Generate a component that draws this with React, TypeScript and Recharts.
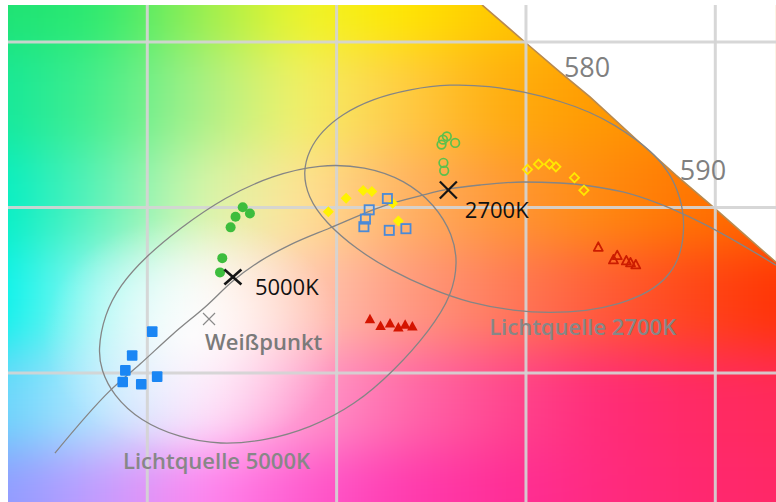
import React from 'react';
import { ComposedChart, XAxis, YAxis, Scatter, Area, ReferenceLine } from 'recharts';

// Chromaticity-like coordinate system of the diagram section
const X_DOMAIN: [number, number] = [0.26321, 0.46603];
const Y_DOMAIN: [number, number] = [0.311027, 0.461178];
const xGridTicks = [0.3, 0.35, 0.4, 0.45];
const yGridTicks = [0.35, 0.4, 0.45];

// Spectral locus edge (white area beyond it), with wavelength marks
const spectralLocus = [
  { x: 0.3884, y: 0.4612 },
  { x: 0.3997, y: 0.45 },
  { x: 0.409, y: 0.4409, nm: 580 },
  { x: 0.4169, y: 0.4334 },
  { x: 0.4293, y: 0.4204 },
  { x: 0.4396, y: 0.4098, nm: 590 },
  { x: 0.4494, y: 0.4002 },
  { x: 0.4578, y: 0.3917 },
  { x: 0.466, y: 0.3835 },
];

// Planckian locus
const planckianLocus = [
  { x: 0.2756, y: 0.3258 },
  { x: 0.2901, y: 0.3446 },
  { x: 0.2981, y: 0.3527 },
  { x: 0.3068, y: 0.3618 },
  { x: 0.3158, y: 0.3705 },
  { x: 0.3226, y: 0.3778 },
  { x: 0.3298, y: 0.3838 },
  { x: 0.3377, y: 0.3887 },
  { x: 0.3482, y: 0.3938 },
  { x: 0.3633, y: 0.4008 },
  { x: 0.372, y: 0.4035 },
  { x: 0.3797, y: 0.4056 },
  { x: 0.3879, y: 0.4068 },
  { x: 0.3992, y: 0.4077 },
  { x: 0.409, y: 0.4074 },
  { x: 0.4169, y: 0.4065 },
  { x: 0.4256, y: 0.4047 },
  { x: 0.4346, y: 0.4014 },
  { x: 0.446, y: 0.3956 },
  { x: 0.466, y: 0.3826 },
];

// Tolerance ellipses (outline points)
const ellipse5000 = [
  { x: 0.287, y: 0.357 }, { x: 0.2886, y: 0.3675 }, { x: 0.2928, y: 0.3766 }, { x: 0.2994, y: 0.385 },
  { x: 0.3086, y: 0.3938 }, { x: 0.3205, y: 0.4032 }, { x: 0.3332, y: 0.4098 }, { x: 0.3456, y: 0.4131 },
  { x: 0.3575, y: 0.4125 }, { x: 0.3681, y: 0.4083 }, { x: 0.376, y: 0.4008 }, { x: 0.3807, y: 0.3917 },
  { x: 0.382, y: 0.3835 }, { x: 0.3805, y: 0.3736 }, { x: 0.3747, y: 0.363 }, { x: 0.3654, y: 0.3509 },
  { x: 0.3548, y: 0.3403 }, { x: 0.343, y: 0.3334 }, { x: 0.3311, y: 0.3295 }, { x: 0.3192, y: 0.3283 },
  { x: 0.3086, y: 0.3304 }, { x: 0.2981, y: 0.3355 }, { x: 0.2909, y: 0.3434 }, { x: 0.2878, y: 0.3509 },
];
const ellipse2700 = [
  { x: 0.3411, y: 0.4107 }, { x: 0.3427, y: 0.4174 }, { x: 0.3461, y: 0.4231 }, { x: 0.3514, y: 0.4282 },
  { x: 0.3593, y: 0.4328 }, { x: 0.3694, y: 0.4358 }, { x: 0.3799, y: 0.4373 }, { x: 0.3905, y: 0.4367 },
  { x: 0.3997, y: 0.4349 }, { x: 0.409, y: 0.4322 }, { x: 0.4169, y: 0.4289 }, { x: 0.4235, y: 0.4249 },
  { x: 0.4293, y: 0.4204 }, { x: 0.4341, y: 0.4159 }, { x: 0.438, y: 0.4104 }, { x: 0.4409, y: 0.4029 },
  { x: 0.442, y: 0.3947 }, { x: 0.4409, y: 0.3857 }, { x: 0.438, y: 0.3796 }, { x: 0.4328, y: 0.3745 },
  { x: 0.4248, y: 0.3708 }, { x: 0.4159, y: 0.3687 }, { x: 0.4063, y: 0.3681 }, { x: 0.3971, y: 0.3687 },
  { x: 0.3852, y: 0.3711 }, { x: 0.3747, y: 0.3754 }, { x: 0.3641, y: 0.3811 }, { x: 0.3554, y: 0.3872 },
  { x: 0.3469, y: 0.3956 }, { x: 0.3424, y: 0.4032 },
];
const ellipseLabels = [
  { ...ellipse5000[19], text: 'Lichtquelle 5000K' },
  { ...ellipse2700[21], text: 'Lichtquelle 2700K' },
];

// Reference points
const cct5000 = [{ x: 0.3226, y: 0.379, name: '5000K' }];
const cct2700 = [{ x: 0.3795, y: 0.4053, name: '2700K' }];
const whitePoint = [{ x: 0.3163, y: 0.3663, name: 'Weißpunkt' }];

// Measured samples
const greenFilled = [
  { x: 0.3252, y: 0.4001 }, { x: 0.3271, y: 0.3982 }, { x: 0.3233, y: 0.3972 },
  { x: 0.322, y: 0.394 }, { x: 0.3198, y: 0.3847 }, { x: 0.3192, y: 0.3804 },
];
const yellowFilled = [
  { x: 0.3478, y: 0.3987 }, { x: 0.3525, y: 0.4028 }, { x: 0.357, y: 0.4051 },
  { x: 0.3593, y: 0.4048 }, { x: 0.3648, y: 0.4013 }, { x: 0.3663, y: 0.3959 },
];
const blueOpen = [
  { x: 0.3634, y: 0.4027 }, { x: 0.3586, y: 0.3993 }, { x: 0.3576, y: 0.3965 },
  { x: 0.3572, y: 0.3942 }, { x: 0.3639, y: 0.3931 }, { x: 0.3683, y: 0.3936 },
];
const greenOpen = [
  { x: 0.3777, y: 0.419 }, { x: 0.3781, y: 0.4205 }, { x: 0.3791, y: 0.4215 },
  { x: 0.3813, y: 0.4195 }, { x: 0.3782, y: 0.4135 }, { x: 0.3784, y: 0.4111 },
];
const redFilled = [
  { x: 0.3588, y: 0.3665 }, { x: 0.3616, y: 0.3644 }, { x: 0.3641, y: 0.3652 },
  { x: 0.3663, y: 0.364 }, { x: 0.3681, y: 0.3648 }, { x: 0.37, y: 0.3643 },
];
const yellowOpen = [
  { x: 0.4004, y: 0.4115 }, { x: 0.4033, y: 0.4131 }, { x: 0.4062, y: 0.4131 },
  { x: 0.4079, y: 0.4123 }, { x: 0.4128, y: 0.409 }, { x: 0.4153, y: 0.4052 },
];
const redOpen = [
  { x: 0.4191, y: 0.3882 }, { x: 0.4241, y: 0.3857 }, { x: 0.4231, y: 0.3844 },
  { x: 0.4265, y: 0.3841 }, { x: 0.4276, y: 0.3835 }, { x: 0.429, y: 0.3829 },
];
const blueFilled = [
  { x: 0.3013, y: 0.3625 }, { x: 0.296, y: 0.3553 }, { x: 0.2942, y: 0.3508 },
  { x: 0.2935, y: 0.3473 }, { x: 0.2984, y: 0.3466 }, { x: 0.3026, y: 0.3489 },
];

// ---------- background colour field (styling) ----------
const BG_ROWS = [
  ['#1ee274', '#2cea70', '#98ee50', '#eef52a', '#ffe800', '#ffc800', '#ffb400', '#ffa000', '#ff9000'],
  ['#12e89a', '#48ee8c', '#a8f088', '#f4f268', '#ffcc48', '#ffae10', '#ff9a00', '#ff8c00', '#ff8000'],
  ['#00eec4', '#60f2b8', '#d8f6aa', '#ffe496', '#ffb468', '#ff9838', '#ff8a10', '#ff7400', '#ff6400'],
  ['#00f2ea', '#a4f8f2', '#fffbf8', '#ffcab8', '#ff9c84', '#ff7c5c', '#ff5c38', '#ff4418', '#ff3000'],
  ['#64d4fa', '#b8eaff', '#fee0fc', '#ff9ccf', '#ff6cac', '#ff4890', '#ff2c78', '#ff2a64', '#ff2a58'],
  ['#8c9cff', '#c49cff', '#ff88f0', '#ff5cd0', '#ff3cb0', '#ff2e98', '#ff2a80', '#ff2870', '#ff2864'],
];

function Background() {
  return (
    <div style={{ position: 'absolute', left: 8, top: 5, width: 768, height: 497, overflow: 'hidden' }}>
      <div style={{ position: 'absolute', left: -128, top: -125, width: 1040, height: 760, filter: 'blur(26px)' }}>
        {BG_ROWS.map((row, i) => {
          const top = i === 0 ? -120 : i * 100 - 50;
          const bottom = i === BG_ROWS.length - 1 ? 640 : i * 100 + 50;
          const stops = row.map((c, j) => `${c} ${j * 100 + 120}px`).join(', ');
          return (
            <div
              key={i}
              style={{
                position: 'absolute',
                left: 0,
                width: 1040,
                top: top + 120,
                height: bottom - top,
                background: `linear-gradient(to right, ${stops})`,
              }}
            />
          );
        })}
      </div>
      <div
        style={{
          position: 'absolute',
          left: 0,
          top: 0,
          width: 768,
          height: 497,
          background:
            'radial-gradient(ellipse 150px 120px at 185px 330px, rgba(255,255,255,0.75) 0%, rgba(255,255,255,0.4) 45%, rgba(255,255,255,0) 100%)',
        }}
      />
    </div>
  );
}

// ---------- shapes ----------
const FONT = "'Open Sans', sans-serif";
const Empty = () => <g />;

const filledCircle = (p: any) => <circle cx={p.cx} cy={p.cy} r={5} fill="#3dbd3d" />;
const openCircle = (p: any) => (
  <circle cx={p.cx} cy={p.cy} r={4.3} fill="none" stroke="#5cc04c" strokeWidth={1.7} />
);
const diamond = (cx: number, cy: number, r: number) =>
  `M${cx},${cy - r}L${cx + r},${cy}L${cx},${cy + r}L${cx - r},${cy}Z`;
const filledDiamond = (p: any) => <path d={diamond(p.cx, p.cy, 5.5)} fill="#fff200" />;
const openDiamond = (p: any) => (
  <path d={diamond(p.cx, p.cy, 4.6)} fill="none" stroke="#ffe800" strokeWidth={1.8} />
);
const openSquare = (p: any) => (
  <rect x={p.cx - 4.6} y={p.cy - 4.6} width={9.2} height={9.2} fill="none" stroke="#4a8ad8" strokeWidth={1.8} />
);
const filledSquare = (p: any) => (
  <rect x={p.cx - 5.3} y={p.cy - 5.3} width={10.6} height={10.6} rx={1} fill="#1a86f4" />
);
const tri = (cx: number, cy: number, w: number, h: number) =>
  `M${cx},${cy - h / 2}L${cx + w / 2},${cy + h / 2}L${cx - w / 2},${cy + h / 2}Z`;
const filledTriangle = (p: any) => <path d={tri(p.cx, p.cy, 10.5, 9.5)} fill="#d41400" />;
const openTriangle = (p: any) => (
  <path d={tri(p.cx, p.cy, 9, 8.5)} fill="none" stroke="#cc1c00" strokeWidth={1.8} strokeLinejoin="round" />
);

const crossShape =
  (hw: number, hh: number, color: string, sw: number, dx: number, dy: number, textColor: string, weight: number) =>
  (p: any) => (
    <g>
      <line x1={p.cx - hw} y1={p.cy - hh} x2={p.cx + hw} y2={p.cy + hh} stroke={color} strokeWidth={sw} />
      <line x1={p.cx - hw} y1={p.cy + hh} x2={p.cx + hw} y2={p.cy - hh} stroke={color} strokeWidth={sw} />
      <text x={p.cx + dx} y={p.cy + dy} fill={textColor} fontSize={22} fontWeight={weight} fontFamily={FONT}>
        {p.payload.name}
      </text>
    </g>
  );

const ellipseLabelShape = (p: any) => (
  <text x={p.cx - 3.5} y={p.cy + 24} textAnchor="middle" fill="#878787" fontSize={22} fontWeight={600} fontFamily={FONT}>
    {p.payload.text}
  </text>
);
const locusLabelShape = (p: any) =>
  p.payload.nm ? (
    <text x={p.cx + 27} y={p.cy + 5} textAnchor="middle" fill="#808080" fontSize={27} fontWeight={500} fontFamily={FONT}>
      {String(p.payload.nm)}
    </text>
  ) : (
    <g />
  );

export default function App() {
  const curveLine = { stroke: '#858585', strokeWidth: 1.3 };
  return (
    <div style={{ position: 'absolute', left: 0, top: 0, width: 776, height: 502, background: '#ffffff', overflow: 'hidden' }}>
      <Background />
      <div style={{ position: 'absolute', left: 0, top: 0 }}>
        <ComposedChart width={776} height={502} margin={{ top: 5, right: 0, bottom: 0, left: 8 }}>
          <XAxis type="number" dataKey="x" domain={X_DOMAIN} allowDataOverflow hide />
          <YAxis type="number" dataKey="y" domain={Y_DOMAIN} allowDataOverflow hide />
          <Area
            data={spectralLocus}
            dataKey="y"
            type="linear"
            baseValue={Y_DOMAIN[1]}
            fill="#ffffff"
            fillOpacity={1}
            stroke="#b88a50"
            strokeWidth={1.6}
            dot={false}
            activeDot={false}
            isAnimationActive={false}
          />
          {xGridTicks.map((v) => (
            <ReferenceLine key={'gx' + v} x={v} stroke="#d4d4d4" strokeOpacity={0.92} strokeWidth={3} />
          ))}
          {yGridTicks.map((v) => (
            <ReferenceLine key={'gy' + v} y={v} stroke="#d4d4d4" strokeOpacity={0.92} strokeWidth={3} />
          ))}
          <Scatter data={ellipse5000} line={curveLine} lineJointType="basisClosed" shape={Empty} isAnimationActive={false} />
          <Scatter data={ellipse2700} line={curveLine} lineJointType="basisClosed" shape={Empty} isAnimationActive={false} />
          <Scatter data={planckianLocus} line={curveLine} lineJointType="monotoneX" shape={Empty} isAnimationActive={false} />
          <Scatter data={spectralLocus} shape={locusLabelShape} isAnimationActive={false} />
          <Scatter data={ellipseLabels} shape={ellipseLabelShape} isAnimationActive={false} />
          <Scatter data={greenFilled} shape={filledCircle} isAnimationActive={false} />
          <Scatter data={greenOpen} shape={openCircle} isAnimationActive={false} />
          <Scatter data={yellowFilled} shape={filledDiamond} isAnimationActive={false} />
          <Scatter data={yellowOpen} shape={openDiamond} isAnimationActive={false} />
          <Scatter data={blueOpen} shape={openSquare} isAnimationActive={false} />
          <Scatter data={blueFilled} shape={filledSquare} isAnimationActive={false} />
          <Scatter data={redFilled} shape={filledTriangle} isAnimationActive={false} />
          <Scatter data={redOpen} shape={openTriangle} isAnimationActive={false} />
          <Scatter data={whitePoint} shape={crossShape(6, 6, '#8a8a8a', 1.2, -4, 31, '#7a7a7a', 600)} isAnimationActive={false} />
          <Scatter data={cct5000} shape={crossShape(8.5, 7.5, '#151515', 2.6, 22, 18, '#111111', 500)} isAnimationActive={false} />
          <Scatter data={cct2700} shape={crossShape(8.5, 8.5, '#151515', 2.2, 16.5, 28, '#111111', 500)} isAnimationActive={false} />
        </ComposedChart>
      </div>
    </div>
  );
}
